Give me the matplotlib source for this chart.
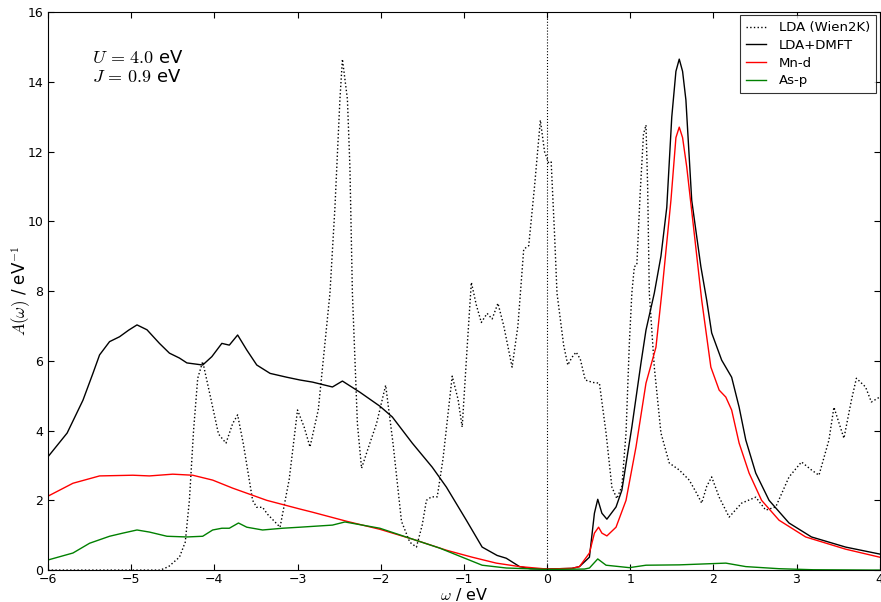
import matplotlib
matplotlib.use("Agg")
import matplotlib.pyplot as plt

plt.rcParams['mathtext.fontset'] = 'cm'

# LDA (Wien2K) total DOS
lda_x = [-6.0, -4.65, -4.55, -4.42, -4.35, -4.3, -4.25, -4.2, -4.14, -4.05, -3.95, -3.86,
         -3.78, -3.72, -3.65, -3.54, -3.49, -3.42, -3.36, -3.21, -3.1, -3.0, -2.92, -2.85,
         -2.75, -2.61, -2.55, -2.49, -2.46, -2.40, -2.37, -2.34, -2.28, -2.23, -2.13, -2.05,
         -1.94, -1.85, -1.75, -1.65, -1.57, -1.5, -1.45, -1.39, -1.32, -1.25, -1.14, -1.07,
         -1.02, -0.96, -0.91, -0.85, -0.79, -0.72, -0.66, -0.59, -0.52, -0.42, -0.35, -0.28,
         -0.22, -0.15, -0.08, -0.03, 0.02, 0.05, 0.09, 0.12, 0.2, 0.25, 0.3, 0.35, 0.4, 0.46,
         0.55, 0.63, 0.71, 0.78, 0.84, 0.9, 0.95, 0.99, 1.02, 1.05, 1.08, 1.12, 1.16, 1.19,
         1.21, 1.23, 1.29, 1.37, 1.47, 1.59, 1.71, 1.8, 1.86, 1.92, 1.98, 2.07, 2.19, 2.34,
         2.51, 2.63, 2.75, 2.91, 3.06, 3.18, 3.27, 3.39, 3.45, 3.57, 3.66, 3.72, 3.83, 3.9, 4.0]
lda_y = [0.0, 0.0, 0.1, 0.37, 0.8, 2.0, 4.0, 5.5, 5.98, 5.0, 3.9, 3.64,
         4.2, 4.45, 3.6, 2.0, 1.8, 1.8, 1.6, 1.23, 2.6, 4.59, 4.1, 3.53,
         4.6, 7.94, 10.4, 13.5, 14.65, 13.5, 11.56, 7.94, 4.2, 2.92, 3.64, 4.2,
         5.3, 3.6, 1.4, 0.8, 0.66, 1.3, 2.0, 2.1, 2.1, 3.2, 5.56, 4.9,
         4.1, 6.4, 8.25, 7.6, 7.1, 7.36, 7.2, 7.65, 7.0, 5.82, 7.0, 9.2,
         9.3, 11.0, 12.9, 12.0, 11.67, 11.7, 9.66, 7.94, 6.45, 5.88, 6.1, 6.25, 6.05, 5.45,
         5.38, 5.36, 3.93, 2.38, 2.05, 2.4, 3.93, 6.5, 7.94, 8.7, 8.75, 10.8, 12.5, 12.76,
         11.0, 7.94, 5.82, 3.93, 3.07, 2.87, 2.58, 2.2, 1.92, 2.4, 2.67, 2.09, 1.52, 1.92,
         2.09, 1.72, 1.81, 2.67, 3.1, 2.87, 2.72, 3.73, 4.67, 3.78, 4.87, 5.5, 5.25, 4.82, 4.96]

# LDA+DMFT total spectral function
dmft_x = [-6.0, -5.77, -5.58, -5.46, -5.38, -5.26, -5.14, -5.03, -4.93, -4.81, -4.66, -4.54,
          -4.42, -4.33, -4.14, -4.03, -3.91, -3.82, -3.72, -3.61, -3.49, -3.33, -3.13, -2.97,
          -2.82, -2.58, -2.46, -2.25, -2.01, -1.86, -1.62, -1.38, -1.21, -0.97, -0.78, -0.6,
          -0.49, -0.33, -0.2, 0.0, 0.3, 0.39, 0.51, 0.57, 0.61, 0.66, 0.72, 0.83, 0.9, 1.02,
          1.13, 1.19, 1.29, 1.37, 1.44, 1.5, 1.55, 1.59, 1.63, 1.67, 1.74, 1.85, 1.92, 1.98,
          2.1, 2.22, 2.31, 2.39, 2.51, 2.67, 2.91, 3.18, 3.59, 4.0]
dmft_y = [3.25, 3.93, 4.87, 5.64, 6.17, 6.55, 6.69, 6.88, 7.03, 6.89, 6.5, 6.22,
          6.08, 5.94, 5.88, 6.12, 6.5, 6.45, 6.74, 6.31, 5.88, 5.64, 5.53, 5.45,
          5.39, 5.25, 5.42, 5.1, 4.7, 4.39, 3.64, 2.95, 2.38, 1.43, 0.66, 0.42,
          0.34, 0.1, 0.04, 0.03, 0.05, 0.1, 0.37, 1.63, 2.03, 1.63, 1.46, 1.81, 2.29, 4.1,
          5.94, 6.88, 7.94, 9.0, 10.4, 12.99, 14.3, 14.65, 14.3, 13.48, 10.6, 8.7, 7.74, 6.8,
          6.02, 5.53, 4.67, 3.73, 2.78, 2.0, 1.35, 0.95, 0.66, 0.46]

# Mn-d projected
mnd_x = [-6.0, -5.7, -5.38, -4.98, -4.78, -4.5, -4.26, -4.02, -3.78, -3.37, -2.97, -2.82,
         -2.41, -2.01, -1.62, -1.21, -0.9, -0.61, -0.33, 0.0, 0.3, 0.39, 0.51, 0.57, 0.62,
         0.66, 0.72, 0.83, 0.95, 1.07, 1.19, 1.31, 1.38, 1.49, 1.55, 1.59, 1.63, 1.68, 1.77,
         1.86, 1.97, 2.07, 2.15, 2.22, 2.31, 2.43, 2.58, 2.79, 3.11, 3.59, 4.0]
mnd_y = [2.12, 2.49, 2.7, 2.72, 2.7, 2.75, 2.72, 2.58, 2.35, 2.0, 1.75, 1.66,
         1.4, 1.17, 0.89, 0.57, 0.37, 0.2, 0.1, 0.03, 0.05, 0.1, 0.49, 1.06, 1.23,
         1.06, 0.98, 1.23, 2.0, 3.53, 5.36, 6.39, 7.94, 10.6, 12.4, 12.7, 12.4, 11.56, 9.66,
         7.74, 5.82, 5.16, 4.96, 4.59, 3.64, 2.78, 2.0, 1.43, 0.95, 0.6, 0.37]

# As-p projected
asp_x = [-6.0, -5.7, -5.5, -5.26, -5.1, -4.93, -4.78, -4.57, -4.33, -4.14, -4.02, -3.91,
         -3.82, -3.71, -3.61, -3.42, -3.18, -2.97, -2.58, -2.43, -2.01, -1.62, -1.29, -1.02,
         -0.78, -0.49, 0.0, 0.45, 0.51, 0.61, 0.71, 0.99, 1.19, 1.59, 2.15, 2.39, 2.79, 3.2, 4.0]
asp_y = [0.29, 0.49, 0.77, 0.97, 1.06, 1.15, 1.09, 0.97, 0.95, 0.97, 1.15, 1.2,
         1.2, 1.35, 1.23, 1.15, 1.2, 1.23, 1.29, 1.38, 1.2, 0.89, 0.63, 0.37,
         0.14, 0.06, 0.02, 0.03, 0.06, 0.32, 0.14, 0.07, 0.14, 0.15, 0.2, 0.1, 0.04, 0.01, 0.0]

x_ticks = [-6, -5, -4, -3, -2, -1, 0, 1, 2, 3, 4]
y_ticks = [0, 2, 4, 6, 8, 10, 12, 14, 16]

fig = plt.figure(figsize=(8.81, 6.02), dpi=100)
ax = fig.add_axes([0.0545, 0.053, 0.944, 0.927])

ax.plot(lda_x, lda_y, ':', color='black', linewidth=1.0, label='LDA (Wien2K)')
ax.plot(dmft_x, dmft_y, '-', color='black', linewidth=1.0, label='LDA+DMFT')
ax.plot(mnd_x, mnd_y, '-', color='red', linewidth=1.0, label='Mn-d')
ax.plot(asp_x, asp_y, '-', color='green', linewidth=1.0, label='As-p')
ax.axvline(0, color='black', linestyle=':', linewidth=0.8)

ax.set_xlim(-6, 4)
ax.set_ylim(0, 16)
ax.set_xticks(x_ticks)
ax.set_yticks(y_ticks)
ax.tick_params(direction='in', top=True, right=True, labelsize=9, length=4)
ax.tick_params(axis='x', pad=2)
ax.set_xlabel(r'$\omega$ / eV', fontsize=11.5)
ax.set_ylabel(r'$A(\omega)$ / eV$^{-1}$', fontsize=12)
ax.xaxis.set_label_coords(0.5, -0.028)
ax.yaxis.set_label_coords(-0.018, 0.5)

ax.text(-5.47, 14.55, r'$U\,=\,4.0$ eV', fontsize=13)
ax.text(-5.47, 14.0, r'$J\,=\,0.9$ eV', fontsize=13)

leg = ax.legend(loc='upper right', fontsize=9.5, fancybox=False, borderaxespad=0.25,
                handlelength=1.5, labelspacing=0.35, handletextpad=1.0, borderpad=0.45)
leg.get_frame().set_edgecolor('black')
leg.get_frame().set_linewidth(0.8)

fig.savefig('out.png', dpi=100)
